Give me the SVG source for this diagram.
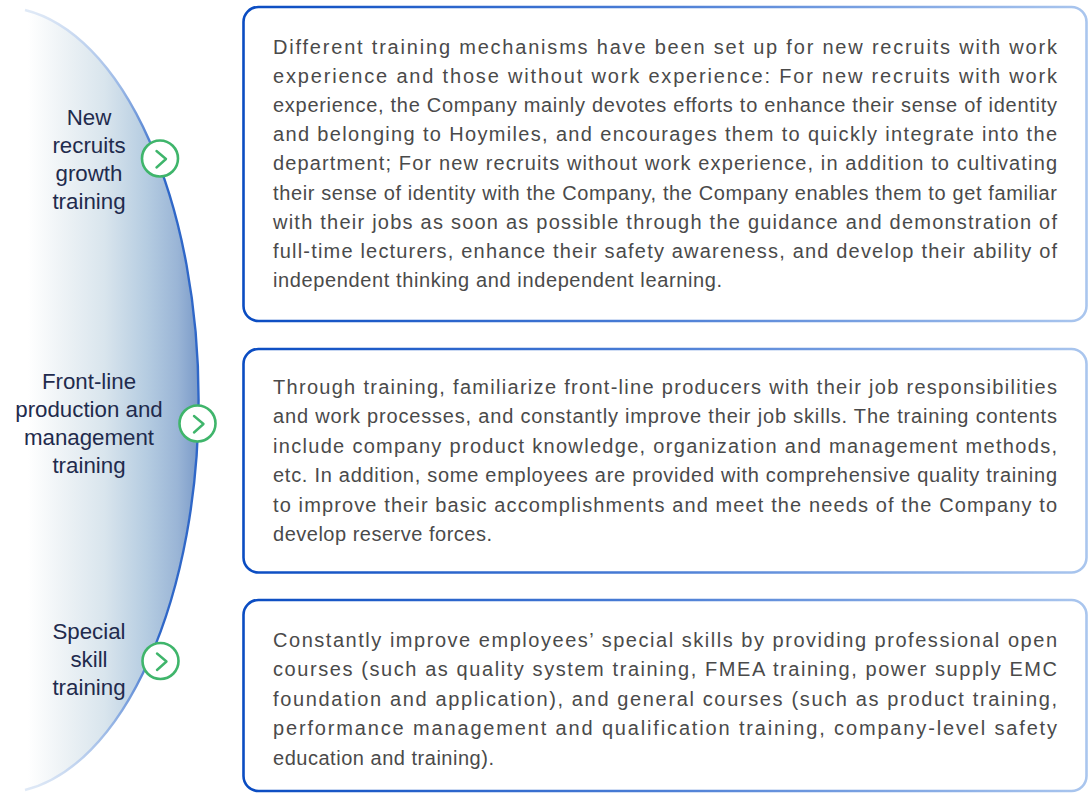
<svg xmlns="http://www.w3.org/2000/svg" width="1089" height="794" viewBox="0 0 1089 794">
<defs>
<linearGradient id="arcFill" gradientUnits="userSpaceOnUse" x1="28" y1="0" x2="198" y2="0">
<stop offset="0" stop-color="#ffffff"/>
<stop offset="0.2" stop-color="#eef3f6"/>
<stop offset="0.45" stop-color="#d9e5ed"/>
<stop offset="0.7" stop-color="#b5cce1"/>
<stop offset="0.88" stop-color="#9ab5d6"/>
<stop offset="1" stop-color="#7b9bc9"/>
</linearGradient>
<linearGradient id="arcStroke" gradientUnits="userSpaceOnUse" x1="0" y1="8" x2="0" y2="792">
<stop offset="0" stop-color="#e2ebf7"/>
<stop offset="0.1" stop-color="#9ab8e6"/>
<stop offset="0.2" stop-color="#2f67c8"/>
<stop offset="0.8" stop-color="#2f67c8"/>
<stop offset="0.92" stop-color="#9ab8e6"/>
<stop offset="1" stop-color="#e2ebf7"/>
</linearGradient>
<linearGradient id="boxStroke" gradientUnits="userSpaceOnUse" x1="243" y1="0" x2="1087" y2="0">
<stop offset="0" stop-color="#0a4cc2"/>
<stop offset="0.5" stop-color="#4d7fd6"/>
<stop offset="1" stop-color="#aac6ee"/>
</linearGradient>
</defs>
<style>
.box{fill:#ffffff;stroke:url(#boxStroke);stroke-width:2.6}
.body{font-family:"Liberation Sans",Arial,sans-serif;font-size:20px;fill:#4a4a4a}
.label{font-family:"Liberation Sans",Arial,sans-serif;font-size:22.3px;fill:#1f2b4d;text-anchor:middle}
.btn{fill:#ffffff;stroke:#3fb56b;stroke-width:2.6}
.chev{fill:none;stroke:#3fb56b;stroke-width:2.4;stroke-linecap:round;stroke-linejoin:round}
</style>
<rect width="1089" height="794" fill="#ffffff"/>

<g id="arc">
<ellipse cx="0" cy="400" rx="198" ry="393" fill="url(#arcFill)"/>
<path d="M25,10 A198,393 0 0 1 25,790" fill="none" stroke="url(#arcStroke)" stroke-width="2.4"/>
</g>

<g id="label-new-recruits">
<text class="label" x="89" y="125">New</text>
<text class="label" x="89" y="153">recruits</text>
<text class="label" x="89" y="181">growth</text>
<text class="label" x="89" y="209">training</text>
<circle class="btn" cx="160" cy="158.5" r="18"/>
<path class="chev" d="M156.5,151 L166,159 L156.5,167.5"/>
</g>

<g id="label-front-line">
<text class="label" x="89" y="389">Front-line</text>
<text class="label" x="89" y="417">production and</text>
<text class="label" x="89" y="445">management</text>
<text class="label" x="89" y="473">training</text>
<circle class="btn" cx="197.5" cy="423.5" r="18"/>
<path class="chev" d="M194,416 L203.5,424 L194,432.5"/>
</g>

<g id="label-special-skill">
<text class="label" x="89" y="639">Special</text>
<text class="label" x="89" y="667">skill</text>
<text class="label" x="89" y="695">training</text>
<circle class="btn" cx="160.5" cy="661" r="18"/>
<path class="chev" d="M157,653.5 L166.5,661.5 L157,670"/>
</g>

<g id="box-new-recruits">
<rect class="box" x="243.5" y="7" width="843" height="314" rx="15"/>
<text class="body" x="273" y="54" textLength="784" lengthAdjust="spacing">Different training mechanisms have been set up for new recruits with work</text>
<text class="body" x="273" y="83.1" textLength="784" lengthAdjust="spacing">experience and those without work experience: For new recruits with work</text>
<text class="body" x="273" y="112.2" textLength="784" lengthAdjust="spacing">experience, the Company mainly devotes efforts to enhance their sense of identity</text>
<text class="body" x="273" y="141.3" textLength="784" lengthAdjust="spacing">and belonging to Hoymiles, and encourages them to quickly integrate into the</text>
<text class="body" x="273" y="170.4" textLength="784" lengthAdjust="spacing">department; For new recruits without work experience, in addition to cultivating</text>
<text class="body" x="273" y="199.5" textLength="784" lengthAdjust="spacing">their sense of identity with the Company, the Company enables them to get familiar</text>
<text class="body" x="273" y="228.6" textLength="784" lengthAdjust="spacing">with their jobs as soon as possible through the guidance and demonstration of</text>
<text class="body" x="273" y="257.7" textLength="784" lengthAdjust="spacing">full-time lecturers, enhance their safety awareness, and develop their ability of</text>
<text class="body" x="273" y="286.8" textLength="449" lengthAdjust="spacing">independent thinking and independent learning.</text>
</g>

<g id="box-front-line">
<rect class="box" x="243.5" y="349" width="843" height="223.5" rx="15"/>
<text class="body" x="273" y="393.5" textLength="784" lengthAdjust="spacing">Through training, familiarize front-line producers with their job responsibilities</text>
<text class="body" x="273" y="423" textLength="784" lengthAdjust="spacing">and work processes, and constantly improve their job skills. The training contents</text>
<text class="body" x="273" y="452.5" textLength="784" lengthAdjust="spacing">include company product knowledge, organization and management methods,</text>
<text class="body" x="273" y="482" textLength="784" lengthAdjust="spacing">etc. In addition, some employees are provided with comprehensive quality training</text>
<text class="body" x="273" y="511.5" textLength="784" lengthAdjust="spacing">to improve their basic accomplishments and meet the needs of the Company to</text>
<text class="body" x="273" y="541" textLength="219" lengthAdjust="spacing">develop reserve forces.</text>
</g>

<g id="box-special-skill">
<rect class="box" x="243.5" y="600" width="843" height="191" rx="15"/>
<text class="body" x="273" y="646.5" textLength="784" lengthAdjust="spacing">Constantly improve employees’ special skills by providing professional open</text>
<text class="body" x="273" y="676" textLength="784" lengthAdjust="spacing">courses (such as quality system training, FMEA training, power supply EMC</text>
<text class="body" x="273" y="705.5" textLength="784" lengthAdjust="spacing">foundation and application), and general courses (such as product training,</text>
<text class="body" x="273" y="735" textLength="784" lengthAdjust="spacing">performance management and qualification training, company-level safety</text>
<text class="body" x="273" y="764.5" textLength="221" lengthAdjust="spacing">education and training).</text>
</g>
</svg>
